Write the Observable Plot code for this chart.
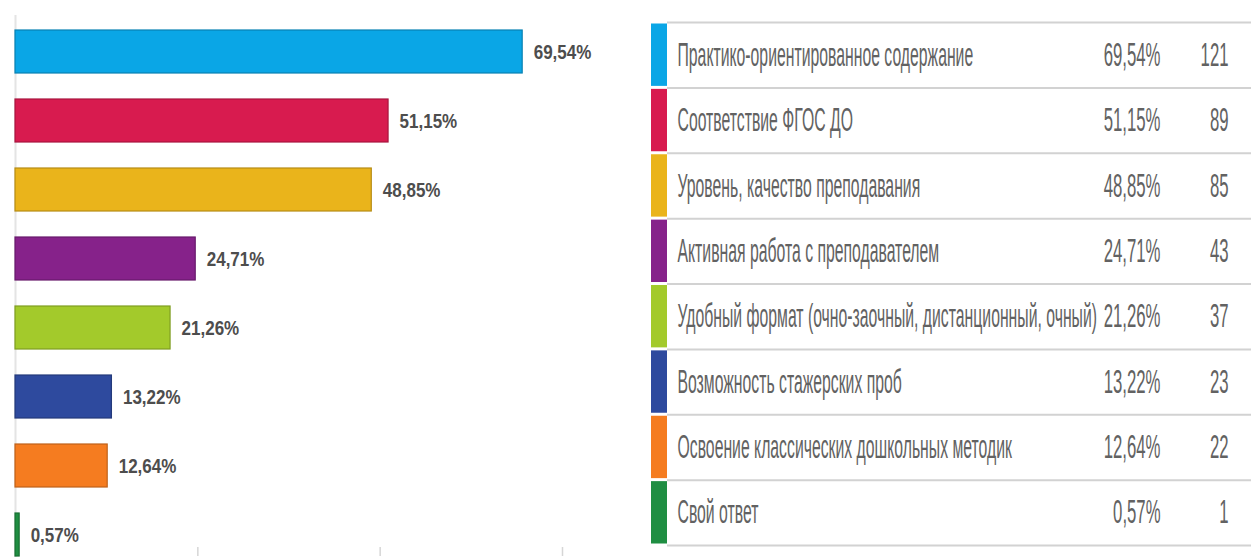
<!DOCTYPE html>
<html>
<head>
<meta charset="utf-8">
<script src="https://cdn.jsdelivr.net/npm/d3@7"></script>
<script src="https://cdn.jsdelivr.net/npm/@observablehq/plot@0.6"></script>
<style>
  html, body { margin: 0; padding: 0; background: #fff; }
  #wrap { display: flex; flex-direction: row; width: 1251px; height: 557px; overflow: hidden; }
  #wrap svg { display: block; }
</style>
</head>
<body>
<div id="wrap"></div>
<script>
const labels = [
  "Практико-ориентированное содержание",
  "Соответствие ФГОС ДО",
  "Уровень, качество преподавания",
  "Активная работа с преподавателем",
  "Удобный формат (очно-заочный, дистанционный, очный)",
  "Возможность стажерских проб",
  "Освоение классических дошкольных методик",
  "Свой ответ"
];
const percents = [69.54, 51.15, 48.85, 24.71, 21.26, 13.22, 12.64, 0.57];
const counts = [121, 89, 85, 43, 37, 23, 22, 1];
const colors = ["#0aa6e6", "#d81b4f", "#eab41b", "#86228a", "#a3ca2b", "#2e4a9e", "#f57c20", "#1f8e42"];
const xTicks = [25, 50, 75];

const fmtPct = v => v.toFixed(2).replace(".", ",") + "%";
const data = labels.map((label, i) => ({
  label, pct: percents[i], count: counts[i], color: colors[i],
  edge: d3.color(colors[i]).darker(0.7).formatHex(),
  pctText: fmtPct(percents[i]), idx: i
}));

const font = "'Liberation Sans', Arial, sans-serif";

const left = Plot.plot({
  width: 620, height: 557,
  marginTop: 15, marginBottom: 0, marginLeft: 15, marginRight: 58,
  style: { fontFamily: font, background: "#fff", overflow: "visible" },
  x: { domain: [0, 75], range: [15, 562], axis: null },
  y: { type: "band", domain: labels, range: [15, 571], paddingInner: 0.38, paddingOuter: 0.2, axis: null },
  marks: [
    Plot.ruleX([0], { stroke: "#e4e4e4", strokeWidth: 2 }),
    Plot.barX(data, { x: "pct", y: "label", fill: "color", stroke: "edge", strokeWidth: 1.2 }),
    Plot.text(data, {
      x: "pct", y: "label", text: "pctText", dx: 11, textAnchor: "start",
      fill: "#4d4d4d", fontWeight: "bold", fontSize: 21
    }),
    Plot.tickX(xTicks, { x: d => d, y: () => labels[labels.length - 1], insetTop: 34, stroke: "#d6d6d6", strokeWidth: 1.5 })
  ]
});

const right = Plot.plot({
  width: 631, height: 557,
  marginTop: 22, marginBottom: 12, marginLeft: 47, marginRight: 0,
  style: { fontFamily: font, background: "#fff", overflow: "visible" },
  x: { domain: [0, 1], range: [31, 47], axis: null },
  y: { domain: [0, labels.length], range: [22, 545], axis: null },
  marks: [
    Plot.rect(data, { x1: 0, x2: 1, y1: d => d.idx, y2: d => d.idx + 1, insetTop: 1.5, insetBottom: 1.5, fill: "color" }),
    Plot.ruleY(d3.range(labels.length + 1), { stroke: "#d2d2d2", strokeWidth: 2 }),
    Plot.text(data, {
      y: d => d.idx + 0.5, text: "label", frameAnchor: "left", dx: 10, textAnchor: "start",
      fill: "#626262", fontSize: 33
    }),
    Plot.text(data, {
      y: d => d.idx + 0.5, text: "pctText", frameAnchor: "right", dx: -91, textAnchor: "end",
      fill: "#626262", fontSize: 33
    }),
    Plot.text(data, {
      y: d => d.idx + 0.5, text: d => String(d.count), frameAnchor: "right", dx: -23, textAnchor: "end",
      fill: "#626262", fontSize: 33
    })
  ]
});

const wrap = document.getElementById("wrap");
wrap.appendChild(left);
wrap.appendChild(right);

function squeezeGroup(g, factor) {
  g.querySelectorAll("text").forEach(t => {
    const L = t.getComputedTextLength();
    if (L > 0) {
      t.setAttribute("textLength", (L * factor).toFixed(1));
      t.setAttribute("lengthAdjust", "spacingAndGlyphs");
    }
  });
}
const leftTextGroups = left.querySelectorAll('g[aria-label="text"]');
leftTextGroups.forEach(g => squeezeGroup(g, 0.81));
const rightTextGroups = right.querySelectorAll('g[aria-label="text"]');
const rightFactors = [0.478, 0.507, 0.507];
rightTextGroups.forEach((g, i) => squeezeGroup(g, rightFactors[i] ?? 0.5));
</script>
</body>
</html>
